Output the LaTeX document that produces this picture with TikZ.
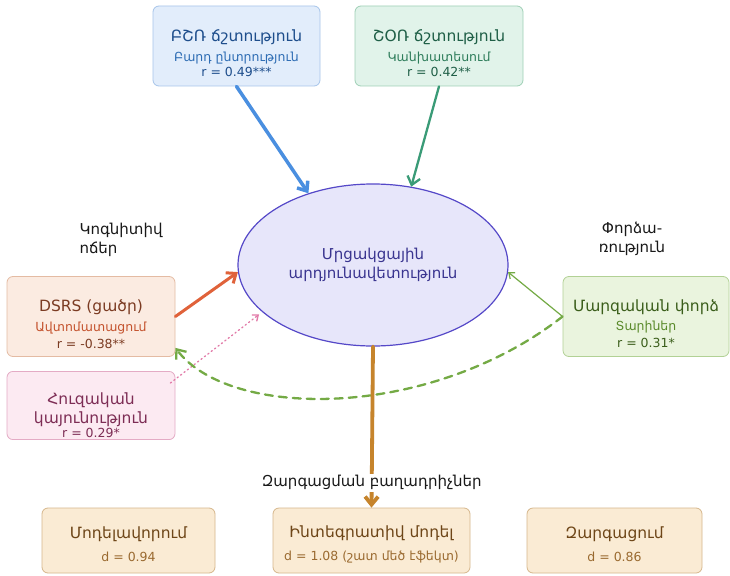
\documentclass[tikz,border=0pt]{standalone}
\usepackage{fontspec}
\setmainfont{DejaVu Sans}
\usetikzlibrary{arrows.meta, shapes.geometric, positioning}
\definecolor{BlueFill}{HTML}{E2EDFB}
\definecolor{BlueLine}{HTML}{A7C5EA}
\definecolor{BlueText}{HTML}{1E4E8C}
\definecolor{BlueSub}{HTML}{2E6DB4}
\definecolor{BlueArrow}{HTML}{4A8FE0}
\definecolor{TealFill}{HTML}{E1F3EA}
\definecolor{TealLine}{HTML}{9FD0B6}
\definecolor{TealText}{HTML}{1F5F47}
\definecolor{TealSub}{HTML}{2E7D5B}
\definecolor{TealArrow}{HTML}{3A9B77}
\definecolor{PeachFill}{HTML}{FBEBE1}
\definecolor{PeachLine}{HTML}{E4BBA3}
\definecolor{PeachText}{HTML}{7B3B22}
\definecolor{PeachSub}{HTML}{C4532E}
\definecolor{OrangeArrow}{HTML}{E0623A}
\definecolor{PinkFill}{HTML}{FCEAF2}
\definecolor{PinkLine}{HTML}{E4ABC5}
\definecolor{PinkText}{HTML}{7D2D55}
\definecolor{PinkArrow}{HTML}{E27AA8}
\definecolor{LimeFill}{HTML}{EAF4DE}
\definecolor{LimeLine}{HTML}{B2D195}
\definecolor{LimeText}{HTML}{3B5E1B}
\definecolor{LimeSub}{HTML}{5A8A2A}
\definecolor{LimeArrow}{HTML}{74AA45}
\definecolor{SandFill}{HTML}{FAEBD4}
\definecolor{SandLine}{HTML}{D6B78C}
\definecolor{SandText}{HTML}{6E4618}
\definecolor{SandSub}{HTML}{9A6A30}
\definecolor{BrownArrow}{HTML}{C6842C}
\definecolor{EllFill}{HTML}{E7E6FA}
\definecolor{EllLine}{HTML}{5548C8}
\definecolor{EllText}{HTML}{3A3590}
\newcommand{\boxtitle}[1]{{\fontsize{15.5}{18}\selectfont #1}}
\newcommand{\padtop}[1]{\rule{0pt}{#1}}
\tikzset{
    factbox/.style={rounded corners=6pt, line width=0.8pt, align=center,
        minimum width=168pt, minimum height=80pt, inner sep=2pt,
        font=\fontsize{12.5}{18}\selectfont},
    bluebox/.style={factbox, fill=BlueFill, draw=BlueLine, text=BlueText},
    tealbox/.style={factbox, fill=TealFill, draw=TealLine, text=TealText},
    peachbox/.style={factbox, fill=PeachFill, draw=PeachLine, text=PeachText},
    pinkbox/.style={factbox, fill=PinkFill, draw=PinkLine, text=PinkText, minimum height=65pt},
    limebox/.style={factbox, fill=LimeFill, draw=LimeLine, text=LimeText},
    sandbox/.style={factbox, fill=SandFill, draw=SandLine, text=SandText, minimum height=65pt},
    grouplabel/.style={align=center, font=\fontsize{15}{19}\selectfont, text=black!90},
    infl/.style={-{Straight Barb[length=8pt, width=13pt]}, line cap=round},
    thininfl/.style={-{Straight Barb[length=5pt, width=8pt]}, line cap=round}
}

\begin{document}
\begin{tikzpicture}[x=1pt, y=-1pt]
    % =========================================
    % 1. 背景
    % =========================================
    \useasboundingbox (0,0) rectangle (730,575);
    \fill[white] (0,0) rectangle (730,575);

    % =========================================
    % 2. 中心 + 预测因子
    % =========================================
    \node[shape=ellipse, fill=EllFill, draw=EllLine, line width=1.2pt, text=EllText,
          minimum width=270pt, minimum height=162pt, align=center,
          font=\fontsize{15}{19}\selectfont] (perf) at (373,265)
        {Մրցակցային\\արդյունավետություն};

    \node[bluebox, minimum width=167pt] (bsr) at (236.5,46)
        {\padtop{27pt}\boxtitle{ԲՇՌ ճշտություն}\\[2pt]\textcolor{BlueSub}{Բարդ ընտրություն}\\[-3pt]r = 0.49***};
    \node[tealbox] (sor) at (439,46)
        {\padtop{27pt}\boxtitle{ՇՕՌ ճշտություն}\\[2pt]\textcolor{TealSub}{Կանխատեսում}\\[-3pt]r = 0.42**};

    \node[peachbox] (dsrs) at (91,316.5)
        {\padtop{27pt}\boxtitle{DSRS (ցածր)}\\[2pt]\textcolor{PeachSub}{Ավտոմատացում}\\[-1pt]r = -0.38**};
    \node[pinkbox] (hug) at (91,405.5)
        {\padtop{31pt}\boxtitle{Հուզական}\\[1pt]\boxtitle{կայունություն}\\[-4pt]r = 0.29*};
    \node[limebox, minimum width=166pt] (marz) at (646,316.5)
        {\padtop{27pt}\boxtitle{Մարզական փորձ}\\[1pt]\textcolor{LimeSub}{Տարիներ}\\[-1pt]r = 0.31*};

    % խմբերի անուններ
    \node[grouplabel, anchor=west, align=left] (cogn) at (76,240) {Կոգնիտիվ\\ոճեր};
    \node[grouplabel] (expe) at (632,239) {Փորձա-\\ռություն};

    % =========================================
    % 3. 发展组成部分
    % =========================================
    \node[sandbox, minimum width=173pt] (model) at (128.5,540.5)
        {\padtop{20pt}\boxtitle{Մոդելավորում}\\[5pt]\textcolor{SandSub}{d = 0.94}};
    \node[sandbox, minimum width=197pt] (integ) at (371.5,540.5)
        {\padtop{20pt}\boxtitle{Ինտեգրատիվ մոդել}\\[5pt]\textcolor{SandSub}{d = 1.08 (շատ մեծ էֆեկտ)}};
    \node[sandbox, minimum width=175pt] (devel) at (614.5,540.5)
        {\padtop{20pt}\boxtitle{Զարգացում}\\[5pt]\textcolor{SandSub}{d = 0.86}};

    % =========================================
    % 4. 连线
    % =========================================
    \draw[infl, BlueArrow, line width=3.5pt] (bsr.south) -- (perf.132);
    \draw[infl, TealArrow, line width=2.3pt] (sor.south) -- (perf.64);
    \draw[infl, OrangeArrow, line width=3pt] (dsrs.east) -- (perf.183);
    \draw[thininfl, PinkArrow, line width=1.3pt, dash pattern=on 1.3pt off 3pt, shorten >=4pt]
        ([xshift=-5pt, yshift=-12pt]hug.north east) -- (perf.203);
    \draw[thininfl, LimeArrow, line width=1.2pt] (marz.west) -- (perf.-3);
    \draw[infl, LimeArrow, line width=2.3pt, dash pattern=on 8pt off 6pt]
        (marz.west) .. controls (430,420) and (230,420) .. ([yshift=9pt]dsrs.south east);
    \draw[infl, BrownArrow, line width=3.8pt] (perf.south) --
        node[pos=0.846, fill=white, inner sep=2pt, text=black!90,
             font=\fontsize{15}{17}\selectfont] (devlabel) {Զարգացման բաղադրիչներ}
        (integ.north);

\end{tikzpicture}
\end{document}
